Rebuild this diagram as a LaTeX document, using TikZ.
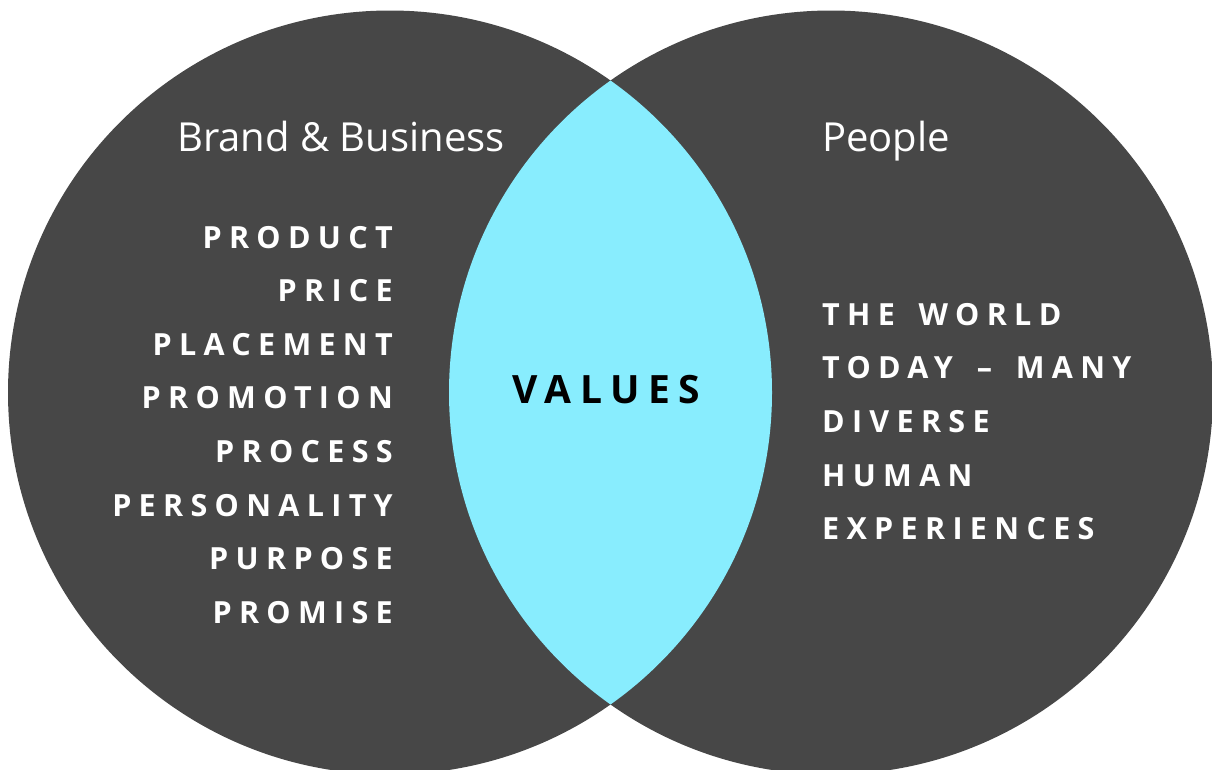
\documentclass[tikz,border=0pt]{standalone}
\usepackage{fontspec}
\setmainfont{Open Sans}
\newfontfamily\itemfont{Open Sans}[LetterSpace=24,WordSpace=1.56]
\newfontfamily\corefont{Open Sans}[LetterSpace=22]
\definecolor{circgray}{HTML}{474747}
\definecolor{lenscyan}{HTML}{88EDFE}
\tikzset{
  head/.style={text=white, inner sep=0pt, font=\fontsize{40}{40}\selectfont},
  item/.style={text=white, inner sep=0pt, font=\itemfont\fontsize{30.5}{30.5}\selectfont\bfseries},
  core/.style={text=black, inner sep=0pt, font=\corefont\fontsize{39}{39}\selectfont\bfseries},
}
\begin{document}
\begin{tikzpicture}[x=1pt,y=-1pt]
\useasboundingbox (0,0) rectangle (1212,769);
\fill[white] (0,0) rectangle (1212,769);
\coordinate (cl) at (390,392.5);
\coordinate (cr) at (831,392.5);
\fill[circgray] (cl) circle (382);
\fill[circgray] (cr) circle (382);
\begin{scope}
  \clip (cl) circle (382);
  \fill[lenscyan] (cr) circle (382);
\end{scope}

\node[head, anchor=base west] (hb) at (177,151) {Brand \& Business};
\node[head, anchor=base west] (hp) at (822,151) {People};

\node[item, anchor=base east] (i1) at (393,248) {PRODUCT};
\node[item, anchor=base east] (i2) at (393,301.6) {PRICE};
\node[item, anchor=base east] (i3) at (393,355.2) {PLACEMENT};
\node[item, anchor=base east] (i4) at (393,408.8) {PROMOTION};
\node[item, anchor=base east] (i5) at (393,462.4) {PROCESS};
\node[item, anchor=base east] (i6) at (393,516) {PERSONALITY};
\node[item, anchor=base east] (i7) at (393,569.6) {PURPOSE};
\node[item, anchor=base east] (i8) at (393,623.2) {PROMISE};

\node[core, anchor=base west] (val) at (512,403) {VALUES};

\node[item, anchor=base west] (r1) at (822,325) {THE WORLD};
\node[item, anchor=base west] (r2) at (822,378.7) {TODAY – MANY};
\node[item, anchor=base west] (r3) at (822,432.4) {DIVERSE};
\node[item, anchor=base west] (r4) at (822,486.1) {HUMAN};
\node[item, anchor=base west] (r5) at (822,539.8) {EXPERIENCES};
\end{tikzpicture}
\end{document}
